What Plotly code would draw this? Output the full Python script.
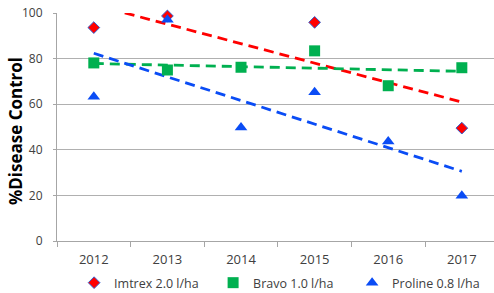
import numpy as np
import plotly.graph_objects as go

years = ["2012", "2013", "2014", "2015", "2016", "2017"]
imtrex = [93.6, 98.7, None, 95.9, None, 49.5]
bravo = [78.1, 75.0, 76.2, 83.4, 68.1, 76.0]
proline = [63.3, 97.0, 49.8, 65.2, 43.6, 19.8]
y_ticks = [0, 20, 40, 60, 80, 100]

names = ["Imtrex 2.0 l/ha", "Bravo 1.0 l/ha", "Proline 0.8 l/ha"]
colors = ["#FF0000", "#00B050", "#0A4CF5"]
symbols = ["diamond", "square", "triangle-up"]
sizes = [9, 11, 11]
series = [imtrex, bravo, proline]

fig = go.Figure()

# trendlines (linear fit)
for vals, col in zip(series, colors):
    xs = np.array([i for i, v in enumerate(vals) if v is not None], dtype=float)
    ys = np.array([v for v in vals if v is not None], dtype=float)
    m, c = np.polyfit(xs, ys, 1)
    fig.add_trace(go.Scatter(
        x=[years[0], years[-1]], y=[m * 0 + c, m * 5 + c],
        mode="lines", line=dict(color=col, width=2.8, dash="10px,6px"),
        showlegend=False, hoverinfo="skip", cliponaxis=True))

for vals, name, col, sym, sz in zip(series, names, colors, symbols, sizes):
    xs = [y for y, v in zip(years, vals) if v is not None]
    ys = [v for v in vals if v is not None]
    line = dict(color="#3060D0", width=1) if sym == "diamond" else dict(width=0, color=col)
    fig.add_trace(go.Scatter(
        x=xs, y=ys, mode="markers", name=name,
        marker=dict(symbol=sym, size=sz, color=col, line=line),
        cliponaxis=False))

fig.add_annotation(text="<b>%Disease Control</b>", textangle=-90,
                   xref="paper", yref="paper", x=-0.0961, y=0.482,
                   xanchor="center", yanchor="middle", showarrow=False,
                   font=dict(size=17, color="#000000", family="Open Sans"))

fig.update_layout(
    width=494, height=293,
    margin=dict(l=57, r=0, t=13, b=52, autoexpand=False),
    paper_bgcolor="white", plot_bgcolor="white",
    font=dict(family="Open Sans", color="#404040"),
    showlegend=True,
    legend=dict(orientation="h", xref="container", yref="container",
                x=0.15, xanchor="left", y=0.034, yanchor="middle",
                font=dict(size=12.5, color="#404040"), itemwidth=30, tracegroupgap=0,
                entrywidth=94, entrywidthmode="pixels",
                bgcolor="rgba(0,0,0,0)"),
    xaxis=dict(type="category", categoryorder="array", categoryarray=years,
               range=[-0.5, 5.437], showgrid=False, showline=True, linecolor="#A6A6A6",
               linewidth=1, ticks="outside", tickson="boundaries", ticklen=5,
               tickcolor="#A6A6A6", tickfont=dict(size=13, color="#404040"),
               ticklabelstandoff=6, zeroline=False, automargin=False),
    yaxis=dict(range=[0, 100], tickvals=y_ticks, showgrid=True, gridcolor="#B0B0B0",
               gridwidth=1, showline=True, linecolor="#A6A6A6", linewidth=1,
               ticks="outside", ticklen=3, tickcolor="#A6A6A6",
               tickfont=dict(size=12, color="#404040"), ticklabelstandoff=8,
               zeroline=False, automargin=False),
)

fig.write_html("out.html", post_script="document.body.style.margin='0';",
               config={"displayModeBar": False})
